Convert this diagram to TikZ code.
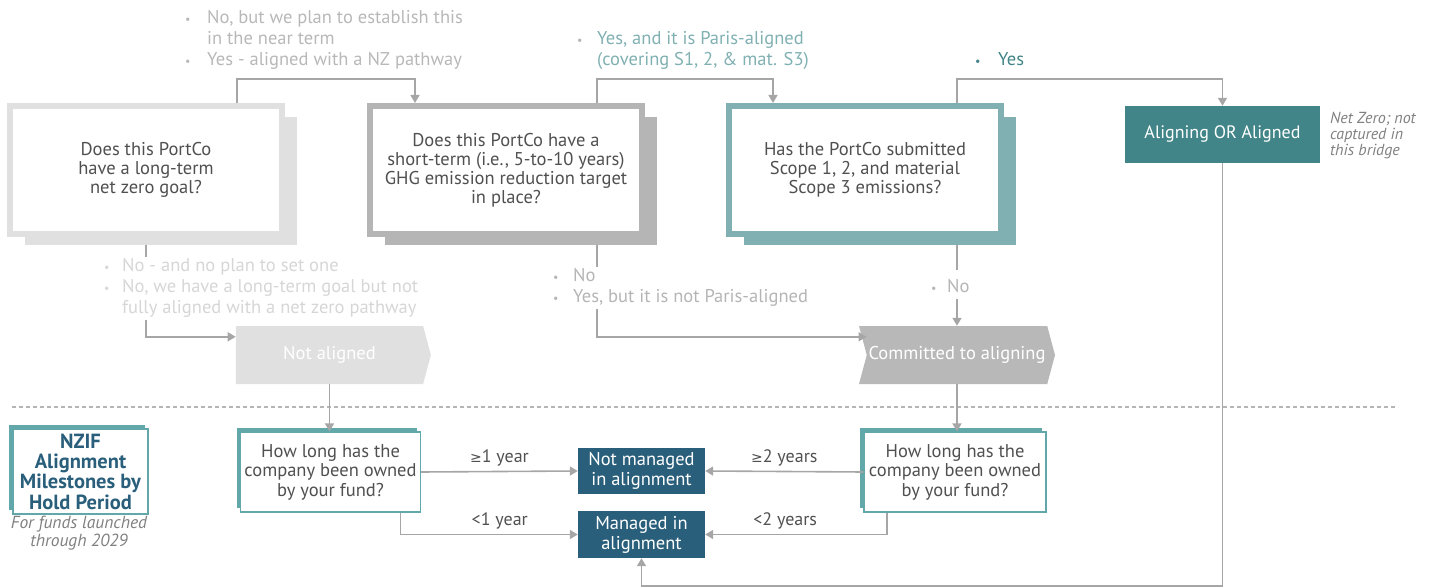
\documentclass[tikz,border=0pt]{standalone}
\usepackage{fontspec}
\setmainfont{PT Sans}
\newfontfamily\symf{DejaVu Sans}
\usetikzlibrary{shapes.symbols,shadows,arrows.meta}

\definecolor{greylight}{HTML}{E0E0E0}
\definecolor{greymid}{HTML}{B5B5B5}
\definecolor{tealpale}{HTML}{80B0B2}
\definecolor{tealdark}{HTML}{428588}
\definecolor{tealbox}{HTML}{62A8AA}
\definecolor{navy}{HTML}{2A5F7B}
\definecolor{txt}{HTML}{505050}
\definecolor{linegrey}{HTML}{A6A6A6}
\definecolor{faint}{HTML}{D6D6D6}
\definecolor{soft}{HTML}{B8B8B8}

\newcommand\bul[1]{\textcolor{#1}{\fontsize{12}{12}\selectfont\textbullet}}

\tikzset{
  question/.style = {draw=#1, fill=white, line width=6pt,
                minimum width=272pt, minimum height=128pt, inner sep=0pt,
                align=center, text=txt, font=\fontsize{18.5}{19}\selectfont,
                drop shadow={shadow xshift=15pt, shadow yshift=-11pt, fill=#1, opacity=1}},
  holdq/.style = {draw=tealbox, fill=white, line width=1.2pt,
                minimum width=#1, minimum height=80pt, inner sep=0pt,
                align=center, text=txt, font=\fontsize{18.5}{19.5}\selectfont,
                drop shadow={shadow xshift=-4pt, shadow yshift=4pt, fill=tealbox, opacity=1}},
  holdq/.default = 180pt,
  outcome/.style = {fill=navy, text=white, minimum width=127pt, minimum height=46pt,
                inner sep=0pt, align=center, font=\fontsize{18.5}{20}\selectfont},
  stage/.style = {signal, signal pointer angle=150, fill=#1, text=white,
                minimum height=58pt, inner sep=0pt, font=\fontsize{18.5}{20}\selectfont},
  answer/.style = {anchor=north west, inner sep=0pt, text=#1, font=\fontsize{18.5}{21}\selectfont},
  conn/.style = {draw=linegrey, line width=1.6pt},
  arr/.style = {conn, -{Triangle[length=8pt,width=9pt]}},
  yrs/.style = {text=txt, font=\fontsize{18}{18}\selectfont, above=1pt}
}

\begin{document}
\begin{tikzpicture}[x=1pt, y=-1pt]
	\useasboundingbox (0,0) rectangle (1436,588);
	\def\bx{91pt}
	
	% Questions
	\node[question=greylight] (q1) at (146,170) {Does this PortCo\\have a long-term\\net zero goal?};
	\node[question=greymid]   (q2) at (506,170) {Does this PortCo have a\\short-term (i.e., 5-to-10 years)\\GHG emission reduction target\\in place?};
	\node[question=tealpale]  (q3) at (865,170) {Has the PortCo submitted\\Scope 1, 2, and material\\Scope 3 emissions?};
	
	\node[fill=tealdark, text=white, minimum width=195pt, minimum height=57pt, inner sep=0pt,
	      font=\fontsize{18}{20}\selectfont] (al) at (1222.5,134.5) {Aligning OR Aligned};
	\node[anchor=north west, inner sep=0pt, align=left, text=gray, font=\fontsize{16}{16}\selectfont\itshape]
	      (alnote) at (1330,112) {Net Zero; not\\captured in\\this bridge};
	
	% Answers (yes)
	\node[answer=soft] (ya) at (185,9) {\begin{tabular}{@{}p{22pt}@{}l@{}}
		\bul{soft} & No, but we plan to establish this\\
		           & in the near term\\
		\bul{soft} & Yes - aligned with a NZ pathway
	\end{tabular}};
	\node[answer=tealpale] (yb) at (577,30) {\begin{tabular}{@{}p{20pt}@{}l@{}}
		\bul{greymid} & Yes, and it is Paris-aligned\\
		              & (covering S1, 2, \& mat. S3)
	\end{tabular}};
	\node[answer=tealdark] (yc) at (975,51) {\begin{tabular}{@{}p{23pt}@{}l@{}}
		\bul{tealdark} & Yes
	\end{tabular}};
	
	\draw[arr] ([xshift=\bx]q1.north) -- ++(0,-24) -| ([xshift=-\bx]q2.north);
	\draw[arr] ([xshift=\bx]q2.north) -- ++(0,-24) -| ([xshift=-92pt]q3.north);
	\draw[arr] ([xshift=92pt]q3.north) -- ++(0,-24) -| (al.north);
	
	% Stages
	\node[stage=greylight, minimum width=195pt, signal to=east] (na) at (329.5,355) {Not aligned};
	\node[stage=soft, minimum width=196pt, signal from=west, signal to=east] (cm) at (957,355) {Committed to aligning};
	
	% Answers (no)
	\node[answer=faint] (na1) at (104,257) {\begin{tabular}{@{}p{18pt}@{}l@{}}
		\bul{faint} & No - and no plan to set one\\
		\bul{faint} & No, we have a long-term goal but not\\
		            & fully aligned with a net zero pathway
	\end{tabular}};
	\node[answer=greymid] (nb) at (553,267) {\begin{tabular}{@{}p{20pt}@{}l@{}}
		\bul{greymid} & No\\
		\bul{greymid} & Yes, but it is not Paris-aligned
	\end{tabular}};
	\node[answer=greymid] (nc) at (931,278) {\begin{tabular}{@{}p{16pt}@{}l@{}}
		\bul{greymid} & No
	\end{tabular}};
	
	\draw[conn] ([yshift=-8pt]q1.south) -- (q1.south |- na1.north);
	\draw[arr] (q1.south |- na1.south) |- ([yshift=-11pt]na.north -| na.west);
	\draw[conn] ([xshift=\bx,yshift=-8pt]q2.south) -- ([xshift=\bx]q2.south |- nb.north);
	\draw[arr] ([xshift=\bx]q2.south |- nb.south) |- ([yshift=-11pt]cm.north -| cm.west);
	\draw[conn] ([xshift=92pt,yshift=-8pt]q3.south) -- ++(0,25);
	\draw[arr] (cm.north |- nc.south) -- (cm.north);
	
	% Divider
	\draw[draw=greymid, line width=1.2pt, dash pattern=on 4pt off 3pt] (12,407) -- (1398,407);
	
	% Hold period
	\node[holdq=135pt, minimum height=85pt, text=navy, font=\fontsize{20.5}{20.3}\selectfont\bfseries,
	      drop shadow={shadow xshift=-3pt, shadow yshift=4pt, fill=tealbox, opacity=1}] (nzif) at (80.5,471.5)
	      {NZIF\\Alignment\\Milestones by\\Hold Period};
	\node[inner sep=0pt, align=center, text=gray, font=\fontsize{17.5}{18}\selectfont\itshape]
	      (nzifnote) at (79,533) {For funds launched\\through 2029};
	
	\node[holdq] (lq) at (330.5,472) {How long has the\\company been owned\\by your fund?};
	\node[holdq=182pt] (rq) at (955,472) {How long has the\\company been owned\\by your fund?};
	
	\node[outcome] (nm) at (641.5,471) {Not managed\\in alignment};
	\node[outcome, minimum height=47pt] (mg) at (641.5,534.5) {Managed in\\alignment};
	
	\draw[arr] (na.south) -- (na.south |- lq.north);
	\draw[arr] (cm.south) -- (cm.south |- rq.north);
	
	\draw[arr] (lq.east) -- node[yrs] {{\symf\fontsize{14}{16}\selectfont≥}1 year} (nm.west);
	\draw[arr] ([xshift=70pt]lq.south) |- node[yrs, pos=0.78] {<1 year} (mg.west);
	\draw[arr] (rq.west) -- node[yrs] {{\symf\fontsize{14}{16}\selectfont≥}2 years} (nm.east);
	\draw[arr] ([xshift=-68pt]rq.south) |- node[yrs, pos=0.78] {<2 years} (mg.east);
	
	\coordinate (bot) at (0,586);
	\draw[arr] (al.south) -- (al.south |- bot) -| (mg.south);
	
\end{tikzpicture}
\end{document}
